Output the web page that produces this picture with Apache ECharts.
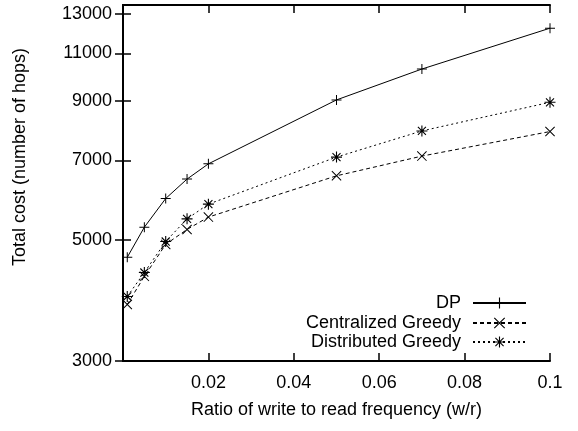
<!DOCTYPE html>
<html>
<head>
<meta charset="utf-8">
<script src="https://cdn.jsdelivr.net/npm/echarts@6/dist/echarts.min.js"></script>
<style>
  html, body { margin: 0; padding: 0; background: #fff; }
  #main { width: 578px; height: 431px; }
</style>
</head>
<body>
<div id="main"></div>
<script>
// ratio of write to read frequency
const ratios = [0.001, 0.005, 0.01, 0.015, 0.02, 0.05, 0.07, 0.1];
const dpCost = [4650, 5280, 5960, 6470, 6900, 9040, 10300, 12240];
const centralCost = [3810, 4290, 4910, 5230, 5510, 6560, 7130, 7910];
const distribCost = [3940, 4360, 4970, 5470, 5820, 7100, 7930, 8950];
const yTicks = [3000, 5000, 7000, 9000, 11000, 13000];

const font = 'Liberation Sans, Arial, Helvetica, sans-serif';

// gnuplot-ish point shapes (filled paths)
const plusPath = 'path://M9,0 H11 V20 H9 Z M0,9 H20 V11 H0 Z';
const crossPath = 'path://M0,1.4 L1.4,0 L20,18.6 L18.6,20 Z M18.6,0 L20,1.4 L1.4,20 L0,18.6 Z';
const starPath = 'path://M9,0 H11 V20 H9 Z M0,9 H20 V11 H0 Z M2,3.4 L3.4,2 L18,16.6 L16.6,18 Z M16.6,2 L18,3.4 L3.4,18 L2,16.6 Z';

function pairs(vals) {
    return ratios.map((r, i) => [r, vals[i]]);
}

const myChart = echarts.init(document.getElementById('main'));

function legendFor(name, top) {
    return {
        data: [name],
        right: 51,
        top: top,
        padding: 0,
        align: 'right',
        itemWidth: 53,
        itemHeight: 14,
        textStyle: { fontFamily: font, fontSize: 18, color: '#000', padding: [0, 7, 0, 0] },
        selectedMode: false
    };
}

const option = {
    animation: false,
    backgroundColor: '#fff',
    grid: { left: 123, right: 28, top: 5, bottom: 70 },
    legend: [
        legendFor('DP', 294),
        legendFor('Centralized Greedy', 314),
        legendFor('Distributed Greedy', 333)
    ],
    xAxis: [
        {
            type: 'value',
            min: 0,
            max: 0.1,
            interval: 0.02,
            name: 'Ratio of write to read frequency (w/r)',
            nameLocation: 'middle',
            nameGap: 40,
            nameTextStyle: { fontFamily: font, fontSize: 18, color: '#000' },
            axisLine: { lineStyle: { color: '#000', width: 2 } },
            axisTick: { inside: true, length: 8, lineStyle: { color: '#000', width: 1.5 } },
            axisLabel: {
                fontFamily: font, fontSize: 18, color: '#000', margin: 13,
                formatter: v => v === 0 ? '' : String(+v.toFixed(2))
            },
            splitLine: { show: false }
        },
        {
            type: 'value',
            position: 'top',
            min: 0,
            max: 0.1,
            interval: 0.02,
            axisLine: { lineStyle: { color: '#000', width: 2 } },
            axisTick: { inside: true, length: 8, lineStyle: { color: '#000', width: 1.5 } },
            axisLabel: { show: false },
            splitLine: { show: false }
        }
    ],
    yAxis: [
        {
            type: 'log',
            logBase: 10,
            min: 3000,
            max: 13500,
            axisLine: { show: true, lineStyle: { color: '#000', width: 2 } },
            axisTick: { inside: true, length: 8, customValues: yTicks, lineStyle: { color: '#000', width: 1.5 } },
            axisLabel: {
                fontFamily: font, fontSize: 18, color: '#000', margin: 11, customValues: yTicks,
                formatter: v => String(Math.round(v))
            },
            minorTick: { show: false },
            splitLine: { show: false }
        },
        {
            type: 'log',
            logBase: 10,
            position: 'right',
            min: 3000,
            max: 13500,
            axisLine: { show: true, lineStyle: { color: '#000', width: 2 } },
            axisTick: { inside: true, length: 8, customValues: yTicks, lineStyle: { color: '#000', width: 1.5 } },
            axisLabel: { show: false, customValues: yTicks },
            splitLine: { show: false }
        }
    ],
    graphic: [{
        type: 'text',
        x: 20,
        y: 157,
        rotation: Math.PI / 2,
        style: {
            text: 'Total cost (number of hops)',
            fontFamily: font,
            fontSize: 18,
            fill: '#000',
            align: 'center',
            verticalAlign: 'middle'
        }
    }],
    series: [
        {
            name: 'DP',
            type: 'line',
            data: pairs(dpCost),
            symbol: plusPath,
            symbolSize: 10,
            showAllSymbol: true,
            itemStyle: { color: '#000' },
            lineStyle: { color: '#000', width: 1 }
        },
        {
            name: 'Centralized Greedy',
            type: 'line',
            data: pairs(centralCost),
            symbol: crossPath,
            symbolSize: 10,
            itemStyle: { color: '#000' },
            lineStyle: { color: '#000', width: 1, type: [4, 3] }
        },
        {
            name: 'Distributed Greedy',
            type: 'line',
            data: pairs(distribCost),
            symbol: starPath,
            symbolSize: 11,
            itemStyle: { color: '#000' },
            lineStyle: { color: '#000', width: 1, type: [2, 3] }
        }
    ]
};

myChart.setOption(option);
</script>
</body>
</html>
